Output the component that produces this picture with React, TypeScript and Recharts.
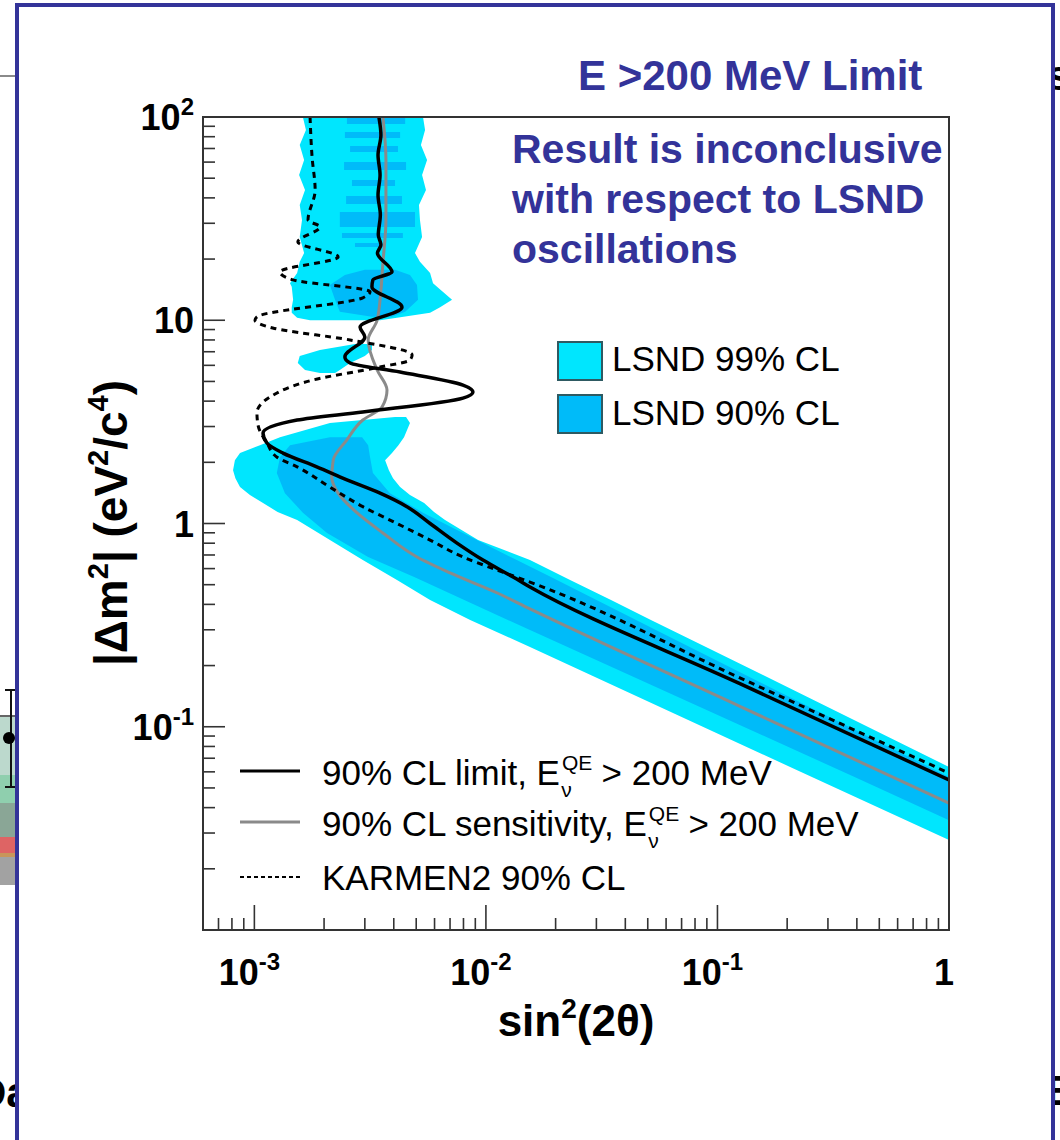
import React from "react";
import { ComposedChart, Area, Line, XAxis, YAxis } from "recharts";

const FONT = '"Liberation Sans", Arial, Helvetica, sans-serif';
const SLIDE_BLUE = "#333399";
const CYAN99 = "#00e6fe";
const CYAN90 = "#00bbf9";

// axes: sin²(2θ) horizontal, |Δm²| vertical, both log
const X_DOMAIN = [6e-4, 1];
const Y_DOMAIN = [1e-2, 1e2];
const X_DECADES = [1e-4, 1e-3, 1e-2, 1e-1];
const Y_DECADES = [1e-2, 1e-1, 1, 10];
const X_MAJOR = [1e-3, 1e-2, 1e-1, 1];
const X_LABELS = [["10", "-3"], ["10", "-2"], ["10", "-1"], ["1", ""]];
const Y_MAJOR = [1e-2, 1e-1, 1, 10, 100];
const Y_LABELS = [["10", "-2"], ["10", "-1"], ["1", ""], ["10", ""], ["10", "2"]];

// LSND 99% CL region: one [lo, hi] interval of sin²2θ per Δm² row, null rows split the pieces
const LSND99_DM2 = [100, 86.3, 72.8, 61.5, 51.9, 43.7, 36.9, 31.1, 25.7, 21.4, 19.4, 17.1, 15.2, 14.6, 12.6, 11.6, 10.9, 10.3, 10.0,
  9.0,
  7.64, 7.14, 6.67, 6.16, 5.69, 5.5,
  4.0,
  3.34, 3.12, 2.66, 2.43, 2.22, 2.05, 1.83, 1.67, 1.51, 1.38, 1.26, 1.14, 1.04, 0.829, 0.661, 0.527, 0.42, 0.335, 0.247, 0.0634, 0.0277];
const LSND99_LO = [1.62e-3, 1.67e-3, 1.57e-3, 1.64e-3, 1.56e-3, 1.655e-3, 1.57e-3, 1.606e-3, 1.57e-3, 1.64e-3, 1.57e-3, 1.53e-3, 1.425e-3, 1.45e-3, 1.47e-3, 1.45e-3, 1.45e-3, 1.53e-3, 1.74e-3,
  null,
  2.72e-3, 1.92e-3, 1.57e-3, 1.54e-3, 1.655e-3, 1.92e-3,
  null,
  4.05e-3, 2.12e-3, 1.29e-3, 1.057e-3, 8.67e-4, 8.24e-4, 8.09e-4, 8.28e-4, 8.67e-4, 9.57e-4, 1.09e-3, 1.26e-3, 1.53e-3, 2.12e-3, 2.94e-3, 4.13e-3, 5.74e-3, 8.55e-3, 1.55e-2, 0.206, 1];
const LSND99_HI = [5.35e-3, 5.46e-3, 5.24e-3, 5.57e-3, 5.3e-3, 5.51e-3, 5.14e-3, 5.19e-3, 5.3e-3, 4.94e-3, 5.19e-3, 5.74e-3, 5.91e-3, 6.15e-3, 7.14e-3, 6.34e-3, 5.74e-3, 4.13e-3, 3.49e-3,
  null,
  3.22e-3, 3.22e-3, 3.0e-3, 2.59e-3, 2.34e-3, 2.23e-3,
  null,
  4.52e-3, 4.7e-3, 4.43e-3, 4.19e-3, 3.93e-3, 3.67e-3, 3.81e-3, 3.97e-3, 4.26e-3, 4.7e-3, 5.41e-3, 5.97e-3, 6.66e-3, 9.25e-3, 1.55e-2, 2.31e-2, 3.47e-2, 5.16e-2, 8.92e-2, 1, 1];

// LSND 90% CL region, same layout (stripes at high Δm², blob near 15, the long band below 3)
const LSND90_DM2 = [100, 92.4, 88, 84.4, 78.8, 75, 72.0, 67.3, 63, 60.1, 54.9, 52, 49.0, 45.8, 43, 40.9, 37.3, 35.5,
  34.1, 28.8, 27.8, 26.9, 25.4, 24.7, 24.0, 22.9, 20,
  17.7, 16.7, 14.9, 12.6, 11.0, 10.4,
  5,
  2.66, 2.43, 2.12, 1.77, 1.41, 1.13, 0.898, 0.684, 0.545, 0.299, 0.0566, 0.0347];
const LSND90_LO = [2.51e-3, 2.51e-3, null, 2.46e-3, 2.46e-3, null, 2.59e-3, 2.59e-3, null, 2.44e-3, 2.44e-3, null, 2.64e-3, 2.64e-3, null, 2.49e-3, 2.49e-3, null,
  2.34e-3, 2.34e-3, null, 2.39e-3, 2.39e-3, null, 2.72e-3, 2.72e-3, null,
  3.0e-3, 2.46e-3, 2.12e-3, 2.23e-3, 2.34e-3, 3.22e-3,
  null,
  2.12e-3, 1.425e-3, 1.29e-3, 1.25e-3, 1.355e-3, 1.62e-3, 2.06e-3, 3.1e-3, 4.9e-3, 1.55e-2, 0.391, 1];
const LSND90_HI = [4.48e-3, 4.48e-3, null, 4.26e-3, 4.26e-3, null, 4.17e-3, 4.17e-3, null, 4.52e-3, 4.52e-3, null, 4.05e-3, 4.05e-3, null, 4.34e-3, 4.34e-3, null,
  4.94e-3, 4.94e-3, null, 4.38e-3, 4.38e-3, null, 3.59e-3, 3.59e-3, null,
  4.05e-3, 4.7e-3, 5.04e-3, 5.09e-3, 4.48e-3, 3.93e-3,
  null,
  2.92e-3, 3.1e-3, 3.16e-3, 3.25e-3, 3.85e-3, 5.35e-3, 7.96e-3, 1.28e-2, 1.91e-2, 5.42e-2, 1, 1];

// 90% CL limit, E_QE > 200 MeV
const LIMIT_DM2 = [100, 81.5, 65.0, 51.9, 41.3, 33.0, 26.3, 23.5, 21.4, 17.3, 15.8, 14.6, 11.6, 9.26, 8.28, 6.6, 6.16, 5.56, 4.8, 4.44, 4.14, 3.54, 3.23, 2.79, 2.49, 2.22, 1.9, 1.64, 1.41, 1.21, 1.0, 0.801, 0.661, 0.545, 0.487, 0.163, 0.0547];
const LIMIT_S2 = [3.45e-3, 3.52e-3, 3.42e-3, 3.49e-3, 3.42e-3, 3.5e-3, 3.43e-3, 3.52e-3, 3.4e-3, 3.93e-3, 3.25e-3, 3.22e-3, 4.34e-3, 2.86e-3, 3.0e-3, 2.46e-3, 2.59e-3, 4.26e-3, 7.96e-3, 8.79e-3, 7.96e-3, 2.94e-3, 1.53e-3, 1.09e-3, 1.133e-3, 1.33e-3, 1.86e-3, 2.51e-3, 3.49e-3, 4.56e-3, 5.74e-3, 7.5e-3, 9.71e-3, 1.31e-2, 1.55e-2, 0.125, 1];

// 90% CL sensitivity
const SENS_DM2 = [100, 61.5, 31.1, 19.1, 14.1, 10.0, 8.0, 5.69, 4.54, 3.74, 3.23, 2.58, 2.05, 1.69, 1.41, 1.13, 0.898, 0.684, 0.571, 0.455, 0.38, 0.126, 0.0421];
const SENS_S2 = [3.59e-3, 3.7e-3, 3.7e-3, 3.59e-3, 3.52e-3, 3.39e-3, 3.1e-3, 3.39e-3, 3.74e-3, 3.56e-3, 2.94e-3, 2.51e-3, 2.19e-3, 2.16e-3, 2.3e-3, 2.77e-3, 3.59e-3, 5.04e-3, 7.0e-3, 1.12e-2, 1.55e-2, 0.125, 1];

// KARMEN2 90% CL
const KARMEN_DM2 = [100, 63.6, 43.7, 31.1, 28.8, 24.3, 20.5, 17.3, 15.8, 13.8, 12.9, 10.4, 10.0, 9.16, 8.0, 6.75, 6.37, 5.89, 5.08, 4.19, 3.5, 3.05, 2.49, 2.12, 1.9, 1.51, 1.21, 1.0, 0.829, 0.684, 0.59, 0.515, 0.174, 0.0592];
const KARMEN_S2 = [1.74e-3, 1.775e-3, 1.83e-3, 1.705e-3, 1.92e-3, 1.54e-3, 2.3e-3, 1.29e-3, 1.47e-3, 3.16e-3, 2.94e-3, 1.026e-3, 1.006e-3, 1.2e-3, 2.59e-3, 4.8e-3, 4.7e-3, 3.49e-3, 1.79e-3, 1.167e-3, 1.026e-3, 1.037e-3, 1.133e-3, 1.253e-3, 1.53e-3, 2.12e-3, 2.94e-3, 4.13e-3, 5.74e-3, 7.96e-3, 1.12e-2, 1.55e-2, 0.125, 1];

const lineRows = (dm2, s2) => dm2.map((d, i) => ({ dm2: d, s2: s2[i] }));
const bandRows = (dm2, lo, hi) =>
  dm2.map((d, i) => ({ dm2: d, band: lo[i] == null ? null : [lo[i], hi[i]] }));

const minorTicks = (decades, lo, hi) => {
  const out = [];
  decades.forEach((d) => {
    for (let k = 1; k <= 9; k++) {
      const v = d * k;
      if (v > lo * 1.001 && v < hi * 1.001) out.push(v);
    }
  });
  return out;
};
const X_TICKS = [...minorTicks(X_DECADES, X_DOMAIN[0], X_DOMAIN[1]), 1];
const Y_TICKS = [...minorTicks(Y_DECADES, Y_DOMAIN[0], Y_DOMAIN[1]), 100];

const majorIndex = (list, v) => list.findIndex((m) => Math.abs(Math.log10(m) - Math.log10(v)) < 1e-6);

const XTick = ({ x, y, payload }) => {
  const i = majorIndex(X_MAJOR, payload.value);
  return (
    <g>
      <line x1={x} x2={x} y1={y} y2={y - (i >= 0 ? 25 : 12)} stroke="#333" strokeWidth={1.6} />
      {i >= 0 && (
        <text x={x - 5} y={y + 55} textAnchor="middle" fontFamily={FONT} fontWeight="bold" fontSize={36} fill="#000">
          {X_LABELS[i][0]}
          {X_LABELS[i][1] && <tspan fontSize={24} dy={-15}>{X_LABELS[i][1]}</tspan>}
        </text>
      )}
    </g>
  );
};

const YTick = ({ x, y, payload }) => {
  const i = majorIndex(Y_MAJOR, payload.value);
  return (
    <g>
      <line x1={x} x2={x + (i >= 0 ? 22 : 12)} y1={y} y2={y} stroke="#333" strokeWidth={1.6} />
      {i >= 0 && (
        <text x={x - 9} y={y + 13} textAnchor="end" fontFamily={FONT} fontWeight="bold" fontSize={36} fill="#000">
          {Y_LABELS[i][0]}
          {Y_LABELS[i][1] && <tspan fontSize={24} dy={-15}>{Y_LABELS[i][1]}</tspan>}
        </text>
      )}
    </g>
  );
};

// bits of the slide underneath that peek out around the frame
function Backdrop() {
  const bars = [
    [717, 58, "#bcd9cd"],
    [775, 28, "#8fcfae"],
    [803, 34, "#8aa696"],
    [837, 16, "#de6464"],
    [853, 4, "#c8955a"],
    [857, 28, "#a2a2a2"],
  ];
  return (
    <svg width={1060} height={1140} style={{ position: "absolute", left: 0, top: 0 }}>
      <line x1={0} x2={16} y1={76} y2={76} stroke="#8a8a8a" strokeWidth={2} />
      {bars.map(([y, h, c]) => (
        <rect key={y} x={0} y={y} width={16} height={h} fill={c} />
      ))}
      <line x1={0} x2={16} y1={716} y2={716} stroke="#333" strokeWidth={1.5} />
      <line x1={11} x2={11} y1={690} y2={787} stroke="#111" strokeWidth={2} />
      <line x1={5} x2={16} y1={690} y2={690} stroke="#111" strokeWidth={2} />
      <line x1={5} x2={16} y1={787} y2={787} stroke="#111" strokeWidth={2} />
      <circle cx={9} cy={738} r={6} fill="#000" />
      <text x={-24} y={1107} fontFamily={FONT} fontWeight="bold" fontSize={42}>Da</text>
      <text x={1047} y={90} fontFamily={FONT} fontWeight="bold" fontSize={42}>s</text>
      <text x={1046} y={1105} fontFamily={FONT} fontWeight="bold" fontSize={42}>E</text>
    </svg>
  );
}

function Overlay() {
  const txt = { fontFamily: FONT, fill: "#000" };
  return (
    <svg width={1060} height={1140} style={{ position: "absolute", left: 0, top: 0, pointerEvents: "none" }}>
      <rect x={203} y={117} width={746} height={813} fill="none" stroke="#333" strokeWidth={2} />

      <g fontFamily={FONT} fontWeight="bold" fill={SLIDE_BLUE}>
        <text x={578} y={90} fontSize={42}>E &gt;200 MeV Limit</text>
        <text x={512} y={163} fontSize={41}>Result is inconclusive</text>
        <text x={512} y={213} fontSize={41}>with respect to LSND</text>
        <text x={512} y={263} fontSize={41}>oscillations</text>
      </g>

      <rect x={558} y={342} width={44} height={38} fill={CYAN99} stroke="#2e5a62" strokeWidth={2} />
      <rect x={558} y={395} width={44} height={38} fill={CYAN90} stroke="#2e5a62" strokeWidth={2} />
      <text x={612} y={371} fontSize={35} {...txt}>LSND 99% CL</text>
      <text x={612} y={425} fontSize={35} {...txt}>LSND 90% CL</text>

      <line x1={240} x2={300} y1={771} y2={771} stroke="#000" strokeWidth={3} />
      <line x1={240} x2={300} y1={822} y2={822} stroke="#8a8a8a" strokeWidth={3} />
      <line x1={240} x2={300} y1={877} y2={877} stroke="#000" strokeWidth={2} strokeDasharray="4 3" />
      <text x={322} y={785} fontSize={35} {...txt} style={{ whiteSpace: "pre" }}>
        90% CL limit, E<tspan dx={2} dy={-15} fontSize={21}>QE</tspan>
        <tspan dx={-31} dy={27} fontSize={21}>ν</tspan>
        <tspan dx={20} dy={-12}>{" > 200 MeV"}</tspan>
      </text>
      <text x={322} y={836} fontSize={35} {...txt} style={{ whiteSpace: "pre" }}>
        90% CL sensitivity, E<tspan dx={2} dy={-15} fontSize={21}>QE</tspan>
        <tspan dx={-31} dy={27} fontSize={21}>ν</tspan>
        <tspan dx={20} dy={-12}>{" > 200 MeV"}</tspan>
      </text>
      <text x={322} y={890} fontSize={35} {...txt}>KARMEN2 90% CL</text>

      <text x={576} y={1036} textAnchor="middle" fontSize={44} fontWeight="bold" {...txt}>
        sin<tspan fontSize={28} dy={-18}>2</tspan><tspan dy={18}>(2θ)</tspan>
      </text>
      <text transform="translate(127,523) rotate(-90)" textAnchor="middle" fontSize={46} fontWeight="bold" {...txt}>
        |Δm<tspan fontSize={29} dy={-19}>2</tspan><tspan dy={19}>| (eV</tspan>
        <tspan fontSize={29} dy={-19}>2</tspan><tspan dy={19}>/c</tspan>
        <tspan fontSize={29} dy={-19}>4</tspan><tspan dy={19}>)</tspan>
      </text>
    </svg>
  );
}

export default function App() {
  return (
    <div style={{ position: "absolute", left: 0, top: 0, width: 1060, height: 1140, overflow: "hidden", background: "#fff" }}>
      <Backdrop />
      <div
        style={{
          position: "absolute", left: 15, top: 3, width: 1040, height: 1200,
          border: `4.5px solid ${SLIDE_BLUE}`, boxSizing: "border-box", background: "#fff",
        }}
      />
      <ComposedChart
        width={1060}
        height={1140}
        layout="vertical"
        margin={{ top: 117, right: 111, bottom: 150, left: 123 }}
        style={{ position: "absolute", left: 0, top: 0 }}
      >
        <XAxis
          type="number"
          scale="log"
          domain={X_DOMAIN}
          allowDataOverflow
          ticks={X_TICKS}
          interval={0}
          tick={<XTick />}
          tickSize={0}
          tickMargin={0}
          tickLine={false}
          axisLine={false}
          height={60}
        />
        <YAxis
          type="number"
          dataKey="dm2"
          scale="log"
          domain={Y_DOMAIN}
          reversed
          allowDataOverflow
          ticks={Y_TICKS}
          interval={0}
          tick={<YTick />}
          tickSize={0}
          tickMargin={0}
          tickLine={false}
          axisLine={false}
          width={80}
        />
        <Area
          data={bandRows(LSND99_DM2, LSND99_LO, LSND99_HI)}
          dataKey="band"
          type="linear"
          fill={CYAN99}
          fillOpacity={1}
          stroke="none"
          isAnimationActive={false}
        />
        <Area
          data={bandRows(LSND90_DM2, LSND90_LO, LSND90_HI)}
          dataKey="band"
          type="linear"
          fill={CYAN90}
          fillOpacity={1}
          stroke="none"
          isAnimationActive={false}
        />
        <Line data={lineRows(SENS_DM2, SENS_S2)} dataKey="s2" type="monotone" stroke="#8a8a8a" strokeWidth={3} dot={false} isAnimationActive={false} />
        <Line data={lineRows(KARMEN_DM2, KARMEN_S2)} dataKey="s2" type="monotone" stroke="#000" strokeWidth={3} strokeDasharray="6 5" dot={false} isAnimationActive={false} />
        <Line data={lineRows(LIMIT_DM2, LIMIT_S2)} dataKey="s2" type="monotone" stroke="#000" strokeWidth={3.5} dot={false} isAnimationActive={false} />
      </ComposedChart>
      <Overlay />
    </div>
  );
}
